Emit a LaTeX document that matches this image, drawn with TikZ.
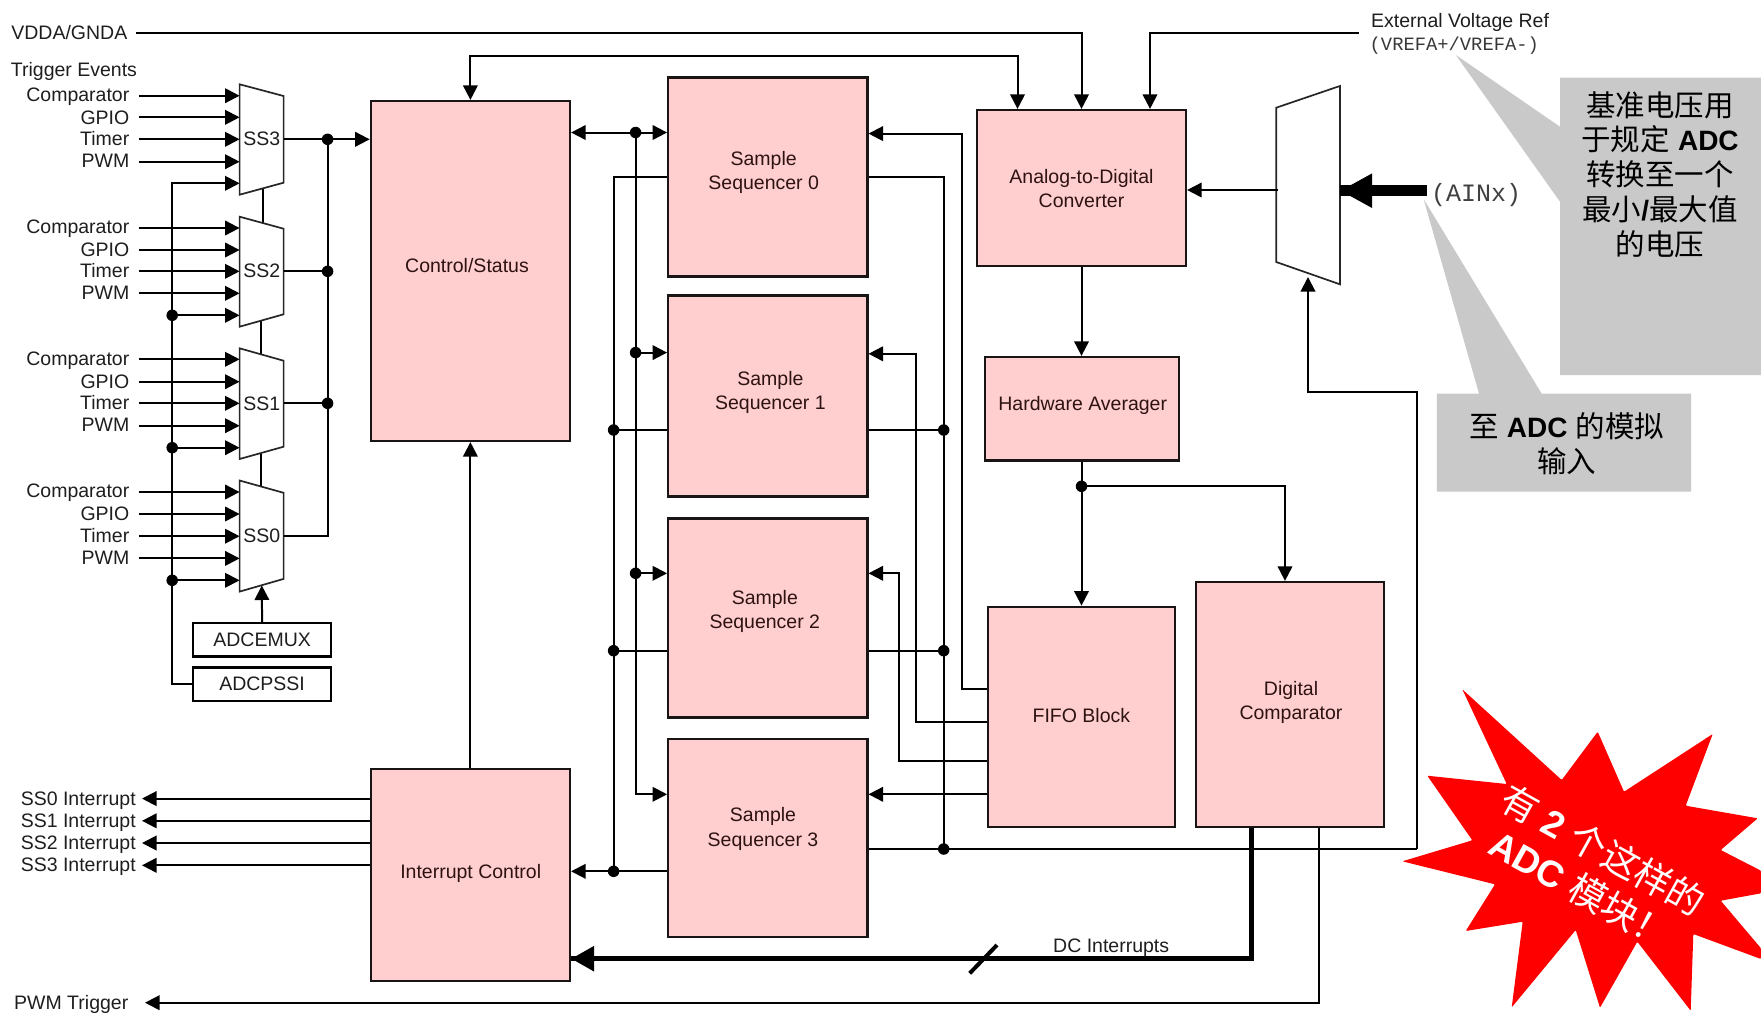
\documentclass[tikz,border=0pt]{standalone}
\usepackage{fontspec}
\setmainfont{Liberation Sans}
\setmonofont{Liberation Mono}
\newfontfamily\cjk{Noto Sans CJK SC}
\usetikzlibrary{arrows.meta,calc}
\definecolor{boxpink}{HTML}{FFCECE}
\definecolor{boxtxt}{HTML}{2E1212}
\definecolor{calloutgray}{HTML}{C9C9C9}
\definecolor{lbl}{HTML}{1E1E1E}
\newcommand{\fs}{\fontsize{19.5}{24.2}\selectfont}
\newcommand{\adcb}[1]{{\fontsize{28}{34.8}\selectfont\bfseries #1}}
\tikzset{
  x=1pt,y=-1pt,
  wire/.style={line width=2pt,draw=black},
  arr/.style={wire,-{Triangle[length=14.5pt,width=14.5pt]}},
  arrboth/.style={wire,{Triangle[length=14.5pt,width=14.5pt]}-{Triangle[length=14.5pt,width=14.5pt]}},
  pinkbox/.style={draw=black!90!boxpink,fill=boxpink,line width=2.2pt,inner sep=0pt,rectangle},
  whitebox/.style={draw=black,fill=white,line width=2.2pt,inner sep=0pt,rectangle,text=lbl,font=\fs},
  boxlabel/.style={font=\fs,text=boxtxt,align=center,inner sep=0pt},
  lab/.style={font=\fs,text=lbl,anchor=east,inner ysep=0pt,inner xsep=9pt},
  muxline/.style={draw=black!85,fill=white,line width=1.7pt,line join=miter},
  dot/.style={circle,fill=black,inner sep=0pt,minimum size=11.5pt},
  callout/.style={fill=calloutgray,draw=none},
  calltxt/.style={font=\fontsize{29.5}{34.8}\selectfont,align=center,inner sep=0pt,text=black},
}
\begin{document}
\begin{tikzpicture}
\useasboundingbox (0,0) rectangle (1761,1013);

% callouts
\fill[callout] (1455.8,55) -- (1560,126.7) -- (1560,77.7) -- (1761,77.7) -- (1761,375) -- (1560,375) -- (1560,201.7) -- cycle;
\fill[callout] (1423.6,199) -- (1541.7,393.7) -- (1691,393.7) -- (1691,491.7) -- (1436.9,491.7) -- (1436.9,393.7) -- (1479,393.7) -- cycle;
\node[calltxt] (cal1) at (1660,174.5) {{\cjk 基准电压用}\\{\cjk 于规定} \adcb{ADC}\\{\cjk 转换至一个}\\{\cjk 最小}\adcb{/}{\cjk 最大值}\\{\cjk 的电压}};
\node[calltxt] (cal2) at (1566.7,444) {{\cjk 至} \adcb{ADC} {\cjk 的模拟}\\{\cjk 输入}};

% main blocks
\node[pinkbox,minimum width=199.2pt,minimum height=340pt] (cs) at (470.4,271) {};
\node[pinkbox,minimum width=199.2pt,minimum height=212pt] (ic) at (470.4,874.6) {};
\node[pinkbox,minimum width=199.2pt,minimum height=199pt] (s0) at (767.8,177) {};
\node[pinkbox,minimum width=199.2pt,minimum height=201pt] (s1) at (767.8,396) {};
\node[pinkbox,minimum width=199.2pt,minimum height=199pt] (s2) at (767.8,618) {};
\node[pinkbox,minimum width=199.2pt,minimum height=198pt] (s3) at (767.8,838) {};
\node[pinkbox,minimum width=209pt,minimum height=156pt] (adc) at (1081.5,188) {};
\node[pinkbox,minimum width=194pt,minimum height=103.5pt] (hw) at (1082,408.7) {};
\node[pinkbox,minimum width=187.7pt,minimum height=220.6pt] (fifo) at (1081.5,717) {};
\node[pinkbox,minimum width=188pt,minimum height=245.3pt] (dc) at (1290,704.6) {};
\node[boxlabel] (cst) at (467,265.7) {Control/Status};
\node[boxlabel] (ict) at (470.7,873.8) {Interrupt Control};
\node[boxlabel] (s0t) at (763.7,172.2) {Sample\\Sequencer 0};
\node[boxlabel] (s1t) at (770.4,392.4) {Sample\\Sequencer 1};
\node[boxlabel] (s2t) at (764.8,611.6) {Sample\\Sequencer 2};
\node[boxlabel] (s3t) at (763,829) {Sample\\Sequencer 3};
\node[boxlabel] (adct) at (1081.5,188.4) {Analog-to-Digital\\Converter};
\node[boxlabel] (hwt) at (1082.7,405.4) {Hardware Averager};
\node[boxlabel] (fifot) at (1081.4,715.4) {FIFO Block};
\node[boxlabel] (dct) at (1291,702.2) {Digital\\Comparator};

% labels at top
\node[lab,inner xsep=8pt] (vdda) at (135.5,32.7) {VDDA/GNDA};
\node[font=\fs,text=lbl,anchor=west,inner sep=0pt] (trig) at (10.7,71) {Trigger Events};
\node[font=\fs,text=lbl,anchor=west,inner sep=0pt] (ext) at (1371,22) {External Voltage Ref};
\node[font=\ttfamily\fontsize{18.8}{22}\selectfont,text=black!78,anchor=west,inner sep=0pt] (vref) at (1369.5,45.8) {(VREFA+/VREFA-)};
\node[font=\ttfamily\fontsize{25}{26}\selectfont,text=black!75,anchor=west,inner sep=0pt] (ain) at (1431,195) {(AINx)};

% top wires
\coordinate (tA) at (1017.5,56);
\coordinate (tB) at (1150,32.7);
\coordinate (extc) at (1359,32.7);
\draw[arrboth] (cs.north) |- (tA) -- (tA |- adc.north);
\draw[arr] (vdda.east) -| (adc.north);
\draw (extc) [arr] -| (tB |- adc.north);

% muxes
\foreach \n/\a/\b/\c/\d in {3/84.3/96/182.7/194.7,2/216.7/228.7/314.3/326.7,1/348.3/360.7/446.7/459,0/480.5/492.8/578.9/591.6}{
  \coordinate (m\n in) at (239.6,\a);
}
\coordinate (m3b) at (262.5,188.5);
\coordinate (m2t) at (262.5,222.9);
\coordinate (m2b) at (260.6,321);
\coordinate (m1t) at (260.6,354.5);
\coordinate (m1b) at (260.6,453);
\coordinate (m0t) at (260.6,486.5);
\draw[wire] (m3b) -- (m2t);
\draw[wire] (m2b) -- (m1t);
\draw[wire] (m1b) -- (m0t);
\foreach \n/\a/\b/\c/\d in {3/84.3/96/182.7/194.7,2/216.7/228.7/314.3/326.7,1/348.3/360.7/446.7/459,0/480.5/492.8/578.9/591.6}{
  \draw[muxline] (239.6,\a) -- (283.6,\b) -- (283.6,\c) -- (239.6,\d) -- cycle;
}
\node[font=\fs,text=lbl,inner sep=0pt] (ss3) at (261.8,138.3) {SS3};
\node[font=\fs,text=lbl,inner sep=0pt] (ss2) at (261.8,270.6) {SS2};
\node[font=\fs,text=lbl,inner sep=0pt] (ss1) at (261.8,403.3) {SS1};
\node[font=\fs,text=lbl,inner sep=0pt] (ss0) at (261.8,536.2) {SS0};

% trigger inputs
\foreach \n/\ya/\yb/\yc/\yd in {3/95.7/117.3/139.3/161.7,2/228/250/271.3/293.3,1/359.3/381.7/403.3/425.7,0/492/514/536.2/558.4}{
  \node[lab] (cmp\n) at (138.5,\ya+1.2) {Comparator};
  \node[lab] (gpio\n) at (138.5,\yb) {GPIO};
  \node[lab] (tmr\n) at (138.5,\yc-0.3) {Timer};
  \node[lab] (pwm\n) at (138.5,\yd-0.7) {PWM};
  \coordinate (ca\n) at (138.5,\ya);
  \coordinate (cb\n) at (138.5,\yb);
  \coordinate (cc\n) at (138.5,\yc);
  \coordinate (cd\n) at (138.5,\yd);
  \draw[arr] (ca\n) -- (m\n in |- ca\n);
  \draw[arr] (cb\n) -- (m\n in |- cb\n);
  \draw[arr] (cc\n) -- (m\n in |- cc\n);
  \draw[arr] (cd\n) -- (m\n in |- cd\n);
}

% ADC boxes
\node[whitebox,minimum width=138.5pt,minimum height=33.5pt] (emux) at (262.1,639.8) {ADCEMUX};
\node[whitebox,minimum width=138.5pt,minimum height=33.6pt] (pssi) at (262.1,684.2) {ADCPSSI};
\coordinate (m0bot) at (261.8,585.5);
\draw[arr] (emux.north) -- (m0bot);

% processor vertical
\node[dot] (t2) at (172.2,315.3) {};
\node[dot] (t1) at (172.2,447.7) {};
\node[dot] (t0) at (172.2,580.3) {};
\coordinate (t3) at (172.2,183.3);
\coordinate (t4) at (172.2,684.2);
\draw[arr] (pssi.west) -- (t4) -- (t3) -- (m3in |- t3);
\draw[arr] (t2.center) -- (m2in |- t2);
\draw[arr] (t1.center) -- (m1in |- t1);
\draw[arr] (t0.center) -- (m0in |- t0);

% mux output bus
\node[dot] (o3) at (327.6,139.3) {};
\node[dot] (o2) at (327.6,271.3) {};
\node[dot] (o1) at (327.6,403.3) {};
\coordinate (o0) at (327.6,536.2);
\coordinate (mr3) at (283.6,139.3);
\draw[arr] (mr3) -- (cs.west |- mr3);
\draw[wire] (283.6,271.3) -- (o2.center);
\draw[wire] (283.6,403.3) -- (o1.center);
\draw[wire] (283.6,536.2) -- (o0) -- (o3.center);

% interrupts
\foreach \n/\y in {0/798.6,1/820.8,2/843,3/865.3}{
  \coordinate (iy\n) at (142,\y);
  \node[font=\fs,text=lbl,anchor=east,inner sep=0pt] (int\n) at (135.9,\y+1.8) {SS\n\ Interrupt};
  \draw[arr] (ic.west |- iy\n) -- (iy\n);
}
\draw[arr] (ic.north) -- (cs.south);

% sequencer left side buses
\node[dot] (a0) at (635.6,132.5) {};
\node[dot] (a1) at (635.6,352.6) {};
\node[dot] (a2) at (635.6,573.3) {};
\coordinate (a3) at (635.6,794.3);
\draw[arrboth] (cs.east |- a0) -- (s0.west |- a0);
\draw[arr] (a0.center) |- (s3.west |- a3);
\draw[arr] (a1.center) -- (s1.west |- a1);
\draw[arr] (a2.center) -- (s2.west |- a2);

\coordinate (b0) at (613.6,177.4);
\node[dot] (b1) at (613.6,430) {};
\node[dot] (b2) at (613.6,650.7) {};
\node[dot] (b3) at (613.6,871.3) {};
\draw[wire] (s0.west |- b0) -- (b0) -- (b3.center);
\draw[wire] (s1.west |- b1) -- (b1.center);
\draw[wire] (s2.west |- b2) -- (b2.center);
\draw[arr] (s3.west |- b3) -- (ic.east |- b3);

% sequencer right side buses
\coordinate (c0) at (943.7,177.4);
\node[dot] (c1) at (943.7,430) {};
\node[dot] (c2) at (943.7,650.7) {};
\node[dot] (c3) at (943.7,849) {};
\draw[wire] (s0.east |- c0) -- (c0) -- (c3.center);
\draw[wire] (s1.east |- c1) -- (c1.center);
\draw[wire] (s2.east |- c2) -- (c2.center);

% FIFO to sequencers
\coordinate (f0) at (962,689.3);
\coordinate (f1) at (916,722.3);
\coordinate (f2) at (899.3,761.3);
\coordinate (f3) at (899.3,794.3);
\draw[arr] (fifo.west |- f0) -- (f0) |- (s0.east |- 0,133.6);
\draw[arr] (fifo.west |- f1) -- (f1) |- (s1.east |- 0,353.8);
\draw[arr] (fifo.west |- f2) -- (f2) |- (s2.east |- 0,573.3);
\draw[arr] (fifo.west |- f3) -- (s3.east |- f3);

% ADC chain
\draw[arr] (adc.south) -- (hw.north -| adc.south);
\node[dot] (h0) at (1081.5,486.3) {};
\draw[arr] (hw.south -| h0) -- (fifo.north -| h0);
\coordinate (h1) at (1285,486.3);
\draw[arr] (h0.center) -- (h1) -- (dc.north -| h1);

% analog mux
\draw[muxline] (1276.2,107.7) -- (1339.9,86) -- (1339.9,284.3) -- (1276.2,262) -- cycle;
\coordinate (am) at (1277.6,190);
\draw[arr] (am) -- (adc.east |- am);
\coordinate (ar) at (1340,190.7);
\coordinate (ain0) at (1426.5,190.7);
\draw[line width=11pt,-{Triangle[length=32pt,width=32pt]}] (ain0) -- (ar);
\draw[line width=11pt] (ain0) -- (ar);

% sequencer 3 to analog mux
\coordinate (w1) at (1417.3,849);
\coordinate (w2) at (1417.3,392.3);
\coordinate (w3) at (1308,392.3);
\coordinate (w4) at (1308,277);
\draw[wire] (s3.east |- c3) -- (w1);
\draw[arr] (w1) -- (w2) -- (w3) -- (w4);

% digital comparator outputs
\coordinate (d1) at (1251.3,958.7);
\draw[line width=5.5pt,-{Triangle[length=23pt,width=24pt]}] (dc.south -| d1) -- (d1) -- (ic.east |- d1);
\draw[line width=5.5pt] (d1) -- (ic.east |- d1);
\coordinate (sl1) at (969.7,973.3);
\coordinate (sl2) at (997,945);
\draw[line width=4pt] (sl1) -- (sl2);
\node[font=\fs,text=lbl,anchor=west,inner sep=0pt] (dci) at (1053,947.9) {DC Interrupts};
\coordinate (p1) at (1319,1002.7);
\coordinate (p2) at (145,1002.7);
\draw[arr] (dc.south -| p1) -- (p1) -- (p2);
\node[font=\fs,text=lbl,anchor=east,inner sep=0pt] (pwmt) at (128.5,1004) {PWM Trigger};

% burst
\fill[red,rounded corners=1pt] (1462.3,689.3) -- (1561.7,780) -- (1597.7,731.7) -- (1624,791.7) -- (1712.7,734) -- (1685.7,805.7) -- (1757.7,818.3) -- (1720.7,850) -- (1761,870.7) -- (1761,893.3) -- (1720.7,900.7) -- (1761,948.3) -- (1761,959) -- (1693.3,934) -- (1690.7,1010.7) -- (1637.3,941.7) -- (1600,1007.7) -- (1575.7,930) -- (1511.7,1007.3) -- (1522.7,921.7) -- (1465.7,931) -- (1495,884.3) -- (1402.3,861.3) -- (1472.3,840.3) -- (1427.3,775.7) -- (1506.7,784) -- cycle;
\node[text=white,rotate=-29,inner sep=0pt,font=\fontsize{37}{40}\selectfont] (bu1) at (1603.3,850) {{\cjk 有} \textbf{2} {\cjk 个这样的}};
\node[text=white,rotate=-29,inner sep=0pt,font=\fontsize{37}{40}\selectfont] (bu2) at (1581,889) {\textbf{ADC} {\cjk 模块！}};
\end{tikzpicture}
\end{document}
